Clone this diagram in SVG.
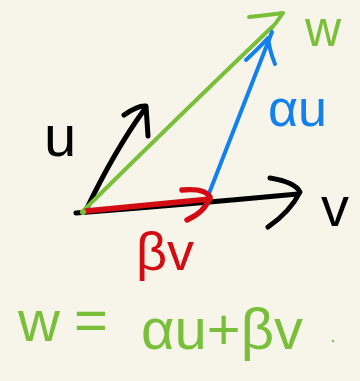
<svg xmlns="http://www.w3.org/2000/svg" width="360" height="381" viewBox="0 0 360 381">
<style>
.s{fill:none;stroke-linecap:round;stroke-linejoin:round}
.k{stroke:#000;stroke-width:5}
.gr{stroke:#79bf3a;stroke-width:4}
.bl{stroke:#1380f0;stroke-width:4}
.rd{stroke:#d30b12;stroke-width:5.5}
text{font-family:"Liberation Sans","DejaVu Sans",sans-serif}
</style>
<rect width="360" height="381" fill="#f7f5ea"/>
<g id="connectors">
<g id="vec-v">
<path class="s k" d="M76,213 Q180,205 298,194"/>
<path class="s k" d="M270,178 Q295,182 300,192 Q290,212 268,227"/>
</g>
<g id="vec-u">
<path class="s k" d="M86,210 Q115,150 144,110"/>
<path class="s k" d="M124,115 Q138,105 146,106 Q147,120 148,136"/>
</g>
<g id="vec-w">
<path class="s gr" d="M84,210 Q180,115 272,27"/>
<path class="s gr" d="M249,17 Q268,15 283,13 Q277,22 270,30"/>
</g>
<g id="vec-au">
<path class="s bl" d="M208,196 Q238,120 272,32"/>
<path class="s bl" d="M246,60 Q262,45 268,38 Q270,52 275,64"/>
</g>
<g id="vec-bv">
<path class="s rd" d="M86,211 Q150,205 210,199"/>
<path class="s rd" d="M182,190 Q205,188 210,197 Q205,212 187,220"/>
</g>
<circle cx="83" cy="212" r="3" fill="#79bf3a"/>
</g>
<g id="label-u"><text x="44" y="156" font-size="58" fill="#000">u</text></g>
<g id="label-v"><text x="321" y="226" font-size="56" fill="#000">v</text></g>
<g id="label-w"><text x="305" y="46" font-size="50" fill="#79bf3a">w</text></g>
<g id="label-au"><text x="268" y="126" font-size="52" fill="#1380f0">αu</text></g>
<g id="label-bv"><text x="136" y="270" font-size="54" fill="#d30b12">βv</text></g>
<g id="formula">
<text font-size="58" fill="#79bf3a"><tspan x="18" y="341">w</tspan><tspan x="74" y="340">=</tspan><tspan x="141" y="349">αu+βv</tspan></text>
<circle cx="333" cy="341" r="1.2" fill="#79bf3a"/>
</g>
</svg>
